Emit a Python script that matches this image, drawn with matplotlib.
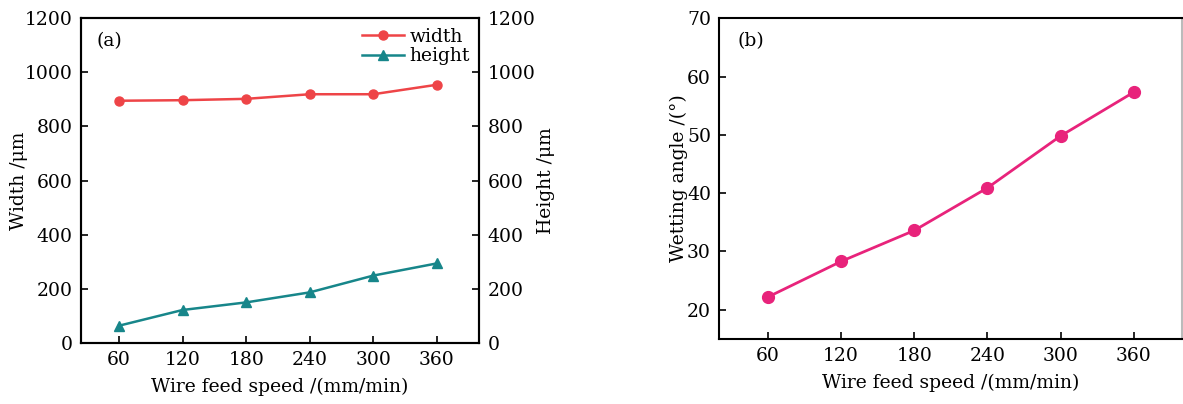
import matplotlib
matplotlib.use("Agg")
import matplotlib.pyplot as plt

# wire feed speed (mm/min)
speed = [60, 120, 180, 240, 300, 360]
width_um = [895, 897, 902, 919, 919, 954]
height_um = [64, 122, 150, 187, 249, 294]
wetting_angle = [22.2, 28.3, 33.6, 40.9, 49.8, 57.3]

plt.rcParams['font.family'] = ['DejaVu Serif']
plt.rcParams['font.size'] = 13.5
plt.rcParams['axes.linewidth'] = 1.5
plt.rcParams['xtick.direction'] = 'in'
plt.rcParams['ytick.direction'] = 'in'
plt.rcParams['xtick.major.width'] = 1.2
plt.rcParams['ytick.major.width'] = 1.2
plt.rcParams['xtick.major.size'] = 5
plt.rcParams['ytick.major.size'] = 5
plt.rcParams['xtick.major.pad'] = 6
plt.rcParams['ytick.major.pad'] = 6

fig = plt.figure(figsize=(11.83, 4.04), dpi=100)

# (a) width / height
ax1 = fig.add_axes([0.0685, 0.151, 0.3365, 0.804])
ax2 = ax1.twinx()
l1, = ax1.plot(speed, width_um, color='#ee4447', marker='o', markersize=6.5, lw=1.8, label='width')
l2, = ax2.plot(speed, height_um, color='#17868a', marker='^', markersize=7, lw=1.8, label='height')
ax1.set_xlim(24, 400)
ax1.set_ylim(0, 1200)
ax2.set_ylim(0, 1200)
ax1.set_xticks(speed)
ax1.set_yticks(range(0, 1201, 200))
ax2.set_yticks(range(0, 1201, 200))
ax1.set_xlabel('Wire feed speed /(mm/min)', labelpad=6)
ax1.set_ylabel('Width /μm', labelpad=-2)
ax2.set_ylabel('Height /μm', labelpad=1)
ax1.text(0.04, 0.93, '(a)', transform=ax1.transAxes, ha='left', va='center')
ax1.legend(handles=[l1, l2], loc='upper right', frameon=False, handlelength=2.2,
           handletextpad=0.3, labelspacing=0.1, borderaxespad=0.1)

# (b) wetting angle
ax3 = fig.add_axes([0.608, 0.161, 0.3915, 0.794])
ax3.plot(speed, wetting_angle, color='#e8237b', marker='o', markersize=8.5, lw=2)
ax3.spines['right'].set_color('#bbbbbb')
ax3.set_xlim(20, 400)
ax3.set_ylim(15, 70)
ax3.set_xticks(speed)
ax3.set_yticks(range(20, 71, 10))
ax3.set_xlabel('Wire feed speed /(mm/min)', labelpad=6)
ax3.set_ylabel('Wetting angle /(°)', labelpad=-1)
ax3.text(0.04, 0.93, '(b)', transform=ax3.transAxes, ha='left', va='center')

fig.savefig('out.png', dpi=100)
